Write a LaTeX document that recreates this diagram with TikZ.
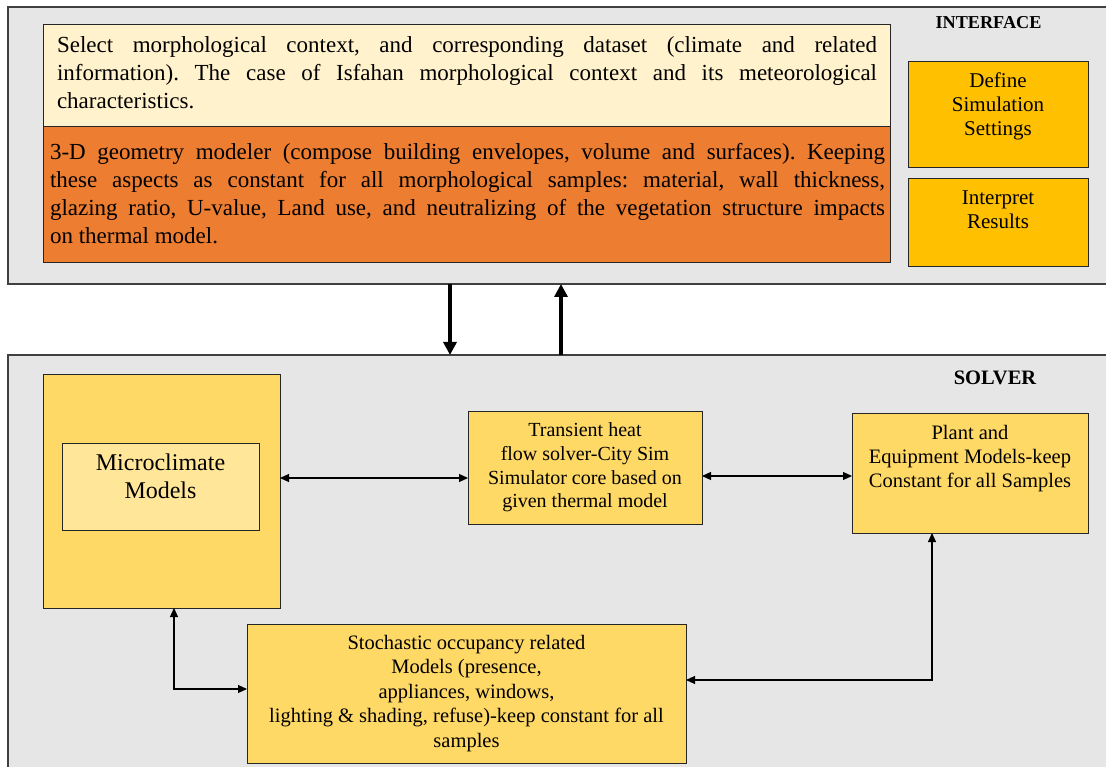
\documentclass[tikz,border=0pt]{standalone}
\usepackage{fontspec}
\IfFontExistsTF{LiberationSerif-Regular.ttf}
  {\setmainfont{LiberationSerif-Regular.ttf}[BoldFont=LiberationSerif-Bold.ttf]}
  {\setmainfont{Liberation Serif}}
\usetikzlibrary{arrows.meta}
\definecolor{bggray}{HTML}{E7E6E6}
\definecolor{lightcream}{HTML}{FFF2CC}
\definecolor{orangebox}{HTML}{ED7D31}
\definecolor{goldbox}{HTML}{FFC000}
\definecolor{yellowbox}{HTML}{FFD966}
\definecolor{paleyellow}{HTML}{FFE699}
\definecolor{edgegray}{HTML}{404040}
\tikzset{
  panel/.style={draw=edgegray, line width=1.3pt, fill=bggray, inner sep=0pt, outer sep=0pt, anchor=north west},
  boxbase/.style={draw=black!85, line width=1pt, inner sep=0pt, outer sep=0pt, anchor=north west},
  txt/.style={inner sep=0pt, outer sep=0pt, font=\fontsize{21}{24}\selectfont, align=center},
  thickarr/.style={line width=3.6pt, -{Triangle[length=13pt,width=13pt]}},
  thinarr/.style={line width=1.1pt, {Triangle[length=9pt,width=8pt]}-{Triangle[length=9pt,width=8pt]}},
}
\begin{document}
\frenchspacing
\begin{tikzpicture}[x=1pt,y=-1pt]
\clip (0,0) rectangle (1106,767);
\fill[white] (0,0) rectangle (1106,767);

% INTERFACE panel
\node[panel, minimum width=1110pt, minimum height=277pt] (iface) at (8,7) {};
\node[font=\fontsize{18.2}{20}\selectfont\bfseries, inner sep=0pt] (ifacelbl) at (988.5,23) {INTERFACE};

\node[boxbase, fill=lightcream, minimum width=847pt, minimum height=102pt] (select) at (43,25) {};
\node[inner sep=0pt, text width=820pt, align=justify, font=\fontsize{23}{28}\selectfont, anchor=center] (selecttxt) at (467,73)
  {\hyphenpenalty=10000 Select morphological context, and corresponding dataset (climate and related\linebreak information). The case of Isfahan morphological context and its meteorological\linebreak characteristics.};

\node[boxbase, fill=orangebox, minimum width=847pt, minimum height=136pt] (geom) at (43,127) {};
\node[inner sep=0pt, text width=835pt, align=justify, font=\fontsize{23}{28}\selectfont, anchor=center] (geomtxt) at (467.5,194)
  {\hyphenpenalty=10000 3-D geometry modeler (compose building envelopes, volume and surfaces). Keeping\linebreak these aspects as constant for all morphological samples: material, wall thickness,\linebreak glazing ratio, U-value, Land use, and neutralizing of the vegetation structure impacts\linebreak on thermal model.};

\node[boxbase, fill=goldbox, minimum width=180pt, minimum height=106pt] (define) at (908,62) {};
\node[txt, anchor=north] (definetxt) at (998,73) {Define\\Simulation\\Settings};

\node[boxbase, fill=goldbox, minimum width=180pt, minimum height=88pt] (interp) at (908,179) {};
\node[txt, anchor=north] (interptxt) at (998,190.5) {Interpret\\Results};

% SOLVER panel
\node[panel, minimum width=1110pt, minimum height=420pt] (solver) at (8,355) {};
\node[font=\fontsize{20.5}{22}\selectfont\bfseries, inner sep=0pt] (solverlbl) at (995,378) {SOLVER};

% exchange arrows
\draw[thickarr] (450,0 |- iface.south) -- (450,0 |- solver.north);
\draw[thickarr] (561,0 |- solver.north) -- (561,0 |- iface.south);

% Microclimate
\node[boxbase, fill=yellowbox, minimum width=237pt, minimum height=234pt] (micro) at (43,374) {};
\node[boxbase, fill=paleyellow, minimum width=197pt, minimum height=87pt] (microin) at (62,443) {};
\node[txt, anchor=north, font=\fontsize{24}{28}\selectfont] (microtxt) at (160.5,454) {Microclimate\\Models};

% Transient
\node[boxbase, fill=yellowbox, minimum width=234pt, minimum height=113pt, align=center,
      font=\fontsize{20}{23.6}\selectfont] (trans) at (468,411) {Transient heat\\flow solver-City Sim\\Simulator core based on\\given thermal model};

% Plant
\node[boxbase, fill=yellowbox, minimum width=236pt, minimum height=120pt] (plant) at (852,413) {};
\node[txt, anchor=north, font=\fontsize{20.5}{24}\selectfont] (planttxt) at (970,425) {Plant and\\Equipment Models-keep\\Constant for all Samples};

% Stochastic
\node[boxbase, fill=yellowbox, minimum width=439pt, minimum height=139pt, align=center,
      font=\fontsize{20.5}{24.5}\selectfont] (stoch) at (247,624) {Stochastic occupancy related\\Models (presence,\\appliances, windows,\\lighting \& shading, refuse)-keep constant for all\\samples};

% connectors
\draw[thinarr] (micro.east |- 0,478) -- (trans.west |- 0,478);
\draw[thinarr] (trans.east |- 0,476) -- (plant.west |- 0,476);
\draw[thinarr] (174,0 |- micro.south) |- (stoch.west |- 0,689);
\draw[thinarr] (932,0 |- plant.south) |- (stoch.east |- 0,680);
\end{tikzpicture}
\end{document}
